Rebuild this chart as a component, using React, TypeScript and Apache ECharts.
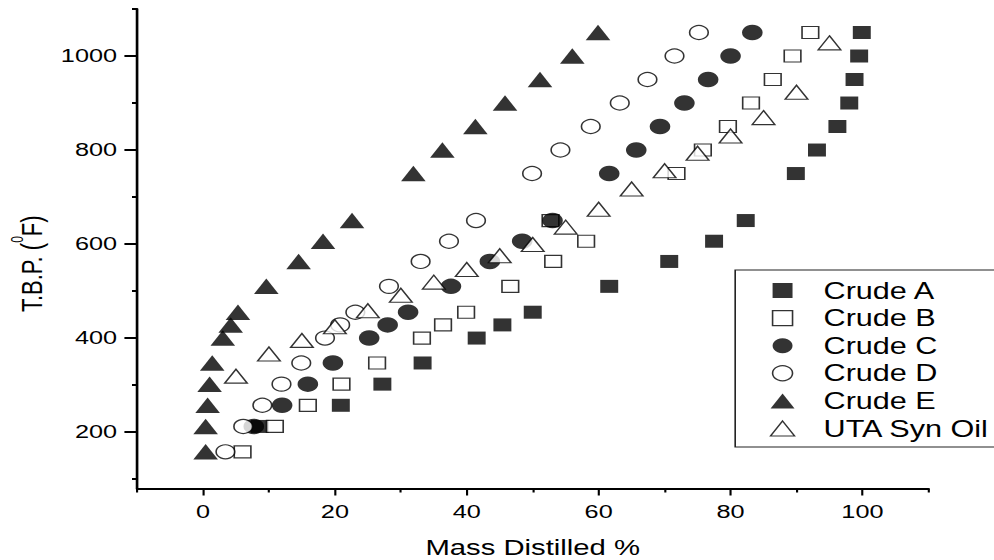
import React, { useEffect, useRef } from 'react';
import * as echarts from 'echarts';

// Mass distilled (%) against true boiling point (°F) for each oil
const crudeA_mass = [8.6, 20.9, 27.2, 33.3, 41.5, 45.4, 50.0, 61.6, 70.7, 77.5, 82.3, 89.9, 93.1, 96.2, 98.0, 98.8, 99.5, 99.9];
const crudeA_tbp = [212, 257, 302, 347, 400, 428, 455, 510, 563, 606, 650, 750, 800, 850, 900, 950, 1000, 1050];

const crudeB_mass = [6.0, 10.9, 15.9, 21.0, 26.4, 33.2, 36.4, 39.9, 46.6, 53.1, 58.1, 52.7, 71.8, 75.8, 79.6, 83.1, 86.4, 89.4, 92.1];
const crudeB_tbp = [158, 212, 257, 302, 347, 400, 428, 455, 510, 563, 606, 650, 750, 800, 850, 900, 950, 1000, 1050];

const crudeC_mass = [7.7, 12.0, 15.9, 19.7, 25.2, 28.0, 31.1, 37.6, 43.5, 48.4, 53.0, 61.6, 65.7, 69.3, 73.0, 76.6, 80.0, 83.3];
const crudeC_tbp = [212, 257, 302, 347, 400, 428, 455, 510, 563, 606, 650, 750, 800, 850, 900, 950, 1000, 1050];

const crudeD_mass = [3.4, 6.1, 9.0, 11.9, 14.9, 18.5, 20.8, 23.1, 28.2, 33.0, 37.3, 41.4, 49.9, 54.2, 58.8, 63.2, 67.4, 71.5, 75.2];
const crudeD_tbp = [158, 212, 257, 302, 347, 400, 428, 455, 510, 563, 606, 650, 750, 800, 850, 900, 950, 1000, 1050];

const crudeE_mass = [0.4, 0.4, 0.7, 1.0, 1.4, 3.0, 4.2, 5.3, 9.6, 14.5, 18.2, 22.6, 31.9, 36.3, 41.3, 45.8, 51.1, 56.0, 59.9];
const crudeE_tbp = [158, 212, 257, 302, 347, 400, 428, 455, 510, 563, 606, 650, 750, 800, 850, 900, 950, 1000, 1050];

const synOil_mass = [5, 10, 15, 20, 25, 30, 35, 40, 45, 50, 55, 60, 65, 70, 75, 80, 85, 90, 95];
const synOil_tbp = [319, 366, 395, 424, 458, 491, 519, 546, 575, 599, 636, 674, 717, 756, 793, 830, 869, 923, 1028];

// Axis ticks and labels
const xMajor = [0, 20, 40, 60, 80, 100];
const xMinor = [-10, 10, 30, 50, 70, 90, 110];
const yMajor = [200, 400, 600, 800, 1000];
const yMinor = [100, 300, 500, 700, 900, 1100];

const FONT = '"Liberation Sans", Arial, Helvetica, sans-serif';
const PLOT_W = 747;
const STRETCH = 994 / PLOT_W;

const pairs = (xs: number[], ys: number[]) => xs.map((x, i) => [x, ys[i]]);
const plain = (v: number) => String(v);

const OPEN = { color: '#fff', borderColor: '#000', borderWidth: 1.2 };
const FILLED = { color: '#000', borderColor: '#000', borderWidth: 0 };

const SQUARE_ICON = 'path://M0,0H15V15H0Z';
const TRIANGLE_ICON = 'path://M9,0L18,15L0,15Z';

function buildOption() {
  const axisLineStyle = { color: '#000', width: 2 };
  return {
    animation: false,
    backgroundColor: '#fff',
    textStyle: { fontFamily: FONT, color: '#000' },
    grid: { left: 103, right: 49.3, top: 9, bottom: 71.5, containLabel: false, outerBoundsMode: 'none' },
    xAxis: [
      {
        type: 'value',
        min: -10,
        max: 110,
        position: 'bottom',
        axisLine: { show: true, onZero: false, lineStyle: axisLineStyle },
        axisTick: { show: true, inside: false, length: 4, customValues: xMinor, lineStyle: { color: '#000', width: 1.6 } },
        axisLabel: { show: false },
        splitLine: { show: false },
      },
      {
        type: 'value',
        min: -10,
        max: 110,
        position: 'bottom',
        axisLine: { show: false, onZero: false },
        axisTick: { show: true, inside: false, length: 7, customValues: xMajor, lineStyle: { color: '#000', width: 1.6 } },
        axisLabel: { show: true, customValues: xMajor, formatter: plain, margin: 14, fontSize: 19, color: '#000', fontFamily: FONT },
        splitLine: { show: false },
        name: 'Mass Distilled %',
        nameLocation: 'middle',
        nameGap: 48,
        nameTextStyle: { fontSize: 22, color: '#000', fontFamily: FONT },
      },
    ],
    yAxis: [
      {
        type: 'value',
        min: 80,
        max: 1100,
        position: 'left',
        axisLine: { show: true, onZero: false, lineStyle: axisLineStyle },
        axisTick: { show: true, inside: false, length: 3.8, customValues: yMinor, lineStyle: { color: '#000', width: 2 } },
        axisLabel: { show: false },
        splitLine: { show: false },
      },
      {
        type: 'value',
        min: 80,
        max: 1100,
        position: 'left',
        axisLine: { show: false, onZero: false },
        axisTick: { show: true, inside: false, length: 9.5, customValues: yMajor, lineStyle: { color: '#000', width: 2 } },
        axisLabel: { show: true, customValues: yMajor, formatter: plain, margin: 15, fontSize: 19, color: '#000', fontFamily: FONT },
        splitLine: { show: false },
        name: 'T.B.P. ({sup|0}F)',
        nameLocation: 'middle',
        nameRotate: 90,
        nameGap: 54.5,
        nameTextStyle: {
          fontSize: 22,
          color: '#000',
          fontFamily: FONT,
          padding: [0, 30, 0, 0],
          rich: {
            sup: { fontSize: 12, color: '#000', fontFamily: FONT, verticalAlign: 'top', padding: [0, 0, 21, 0] },
          },
        },
      },
    ],
    legend: {
      orient: 'vertical',
      left: 552.5,
      top: 270,
      padding: [9, 14, 7, 26],
      itemGap: 4.6,
      itemWidth: 51.6,
      itemHeight: 15,
      borderColor: '#222',
      borderWidth: 1.2,
      backgroundColor: '#fff',
      textStyle: { fontSize: 23, lineHeight: 22, color: '#000', fontFamily: FONT },
      data: [
        { name: 'Crude A', icon: SQUARE_ICON, itemStyle: FILLED },
        { name: 'Crude B', icon: SQUARE_ICON, itemStyle: OPEN },
        { name: 'Crude C', icon: 'circle', itemStyle: FILLED },
        { name: 'Crude D', icon: 'circle', itemStyle: OPEN },
        { name: 'Crude E', icon: TRIANGLE_ICON, itemStyle: FILLED },
        { name: 'UTA Syn Oil', icon: TRIANGLE_ICON, itemStyle: OPEN },
      ],
    },
    series: [
      { name: 'Crude A', type: 'scatter', symbol: 'rect', symbolSize: [13.5, 13], itemStyle: FILLED, data: pairs(crudeA_mass, crudeA_tbp) },
      { name: 'Crude B', type: 'scatter', symbol: 'rect', symbolSize: [12.5, 12], itemStyle: OPEN, data: pairs(crudeB_mass, crudeB_tbp) },
      { name: 'Crude C', type: 'scatter', symbol: 'circle', symbolSize: 15.5, itemStyle: FILLED, data: pairs(crudeC_mass, crudeC_tbp) },
      { name: 'Crude D', type: 'scatter', symbol: 'circle', symbolSize: 14, itemStyle: OPEN, data: pairs(crudeD_mass, crudeD_tbp) },
      { name: 'Crude E', type: 'scatter', symbol: 'triangle', symbolSize: [18.5, 15.5], itemStyle: FILLED, data: pairs(crudeE_mass, crudeE_tbp) },
      { name: 'UTA Syn Oil', type: 'scatter', symbol: 'triangle', symbolSize: [17, 14], itemStyle: OPEN, data: pairs(synOil_mass, synOil_tbp) },
    ].map((s) => ({ ...s, xAxisIndex: 0, yAxisIndex: 0, emphasis: { disabled: true } })),
  };
}

export default function App() {
  const ref = useRef<HTMLDivElement>(null);

  useEffect(() => {
    if (!ref.current) return;
    const chart = echarts.init(ref.current, null, { renderer: 'svg' });
    chart.setOption(buildOption() as any);
    return () => chart.dispose();
  }, []);

  return (
    <div style={{ position: 'fixed', left: 0, top: 0, width: 994, height: 560, overflow: 'hidden', background: '#fff' }}>
      <div
        ref={ref}
        style={{ width: PLOT_W, height: 560, transform: `scaleX(${STRETCH})`, transformOrigin: '0 0' }}
      />
    </div>
  );
}
